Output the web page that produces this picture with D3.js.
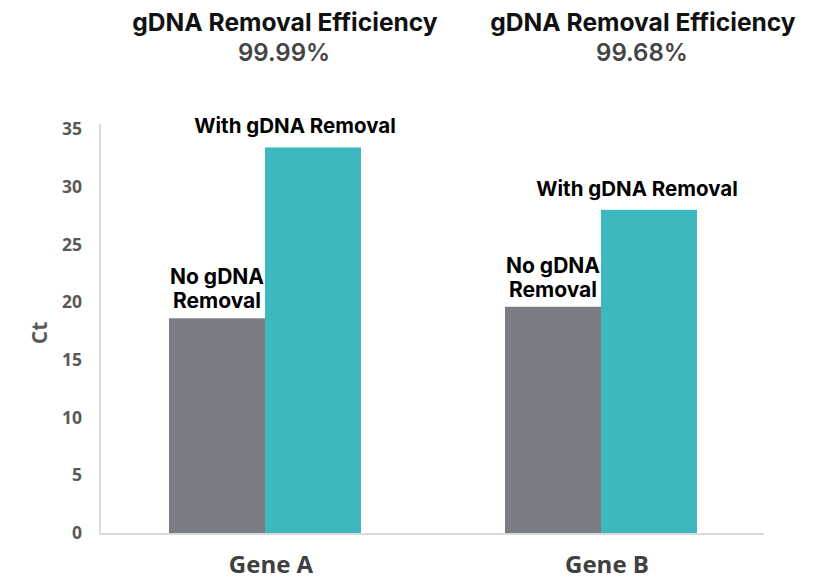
<!DOCTYPE html>
<html>
<head>
<meta charset="utf-8">
<script src="https://cdn.jsdelivr.net/npm/d3@7"></script>
<style>
  body { margin: 0; background: #fff; }
  svg { display: block; }
</style>
</head>
<body>
<svg width="834" height="587"></svg>
<script>
// chart data
const genes = ['Gene A', 'Gene B'];
const series = ['No gDNA Removal', 'With gDNA Removal'];
const noRemoval = [18.6, 19.6];
const withRemoval = [33.4, 28.0];
const efficiency = ['99.99%', '99.68%'];
const yTicks = [0, 5, 10, 15, 20, 25, 30, 35];

const data = genes.map((g, i) => ({ gene: g, values: [noRemoval[i], withRemoval[i]], eff: efficiency[i] }));

const colors = d3.scaleOrdinal().domain(series).range(['#7a7d84', '#3db8bf']);

const xScale = d3.scaleBand()
  .domain(genes)
  .range([97, 769])
  .paddingInner(0.4286)
  .paddingOuter(0.2143);

const xInner = d3.scaleBand()
  .domain(series)
  .range([0, xScale.bandwidth()]);

const yScale = d3.scaleLinear()
  .domain([0, 35])
  .range([533, 129]);

const svg = d3.select('svg');

// bars
const groups = svg.selectAll('.gene')
  .data(data)
  .enter()
  .append('g')
  .attr('transform', d => `translate(${xScale(d.gene)},0)`);

groups.selectAll('rect')
  .data(d => d.values.map((v, j) => ({ key: series[j], value: v })))
  .enter()
  .append('rect')
  .attr('x', d => xInner(d.key))
  .attr('width', xInner.bandwidth())
  .attr('y', d => yScale(d.value))
  .attr('height', d => yScale(0) - yScale(d.value))
  .attr('fill', d => colors(d.key));

// axes lines
svg.append('line')
  .attr('x1', 100).attr('x2', 100)
  .attr('y1', yScale(35) - 5).attr('y2', yScale(0) + 1)
  .attr('stroke', '#d9d9d9').attr('stroke-width', 2);
svg.append('line')
  .attr('x1', 99).attr('x2', 764)
  .attr('y1', yScale(0) + 1).attr('y2', yScale(0) + 1)
  .attr('stroke', '#d9d9d9').attr('stroke-width', 2);

// y tick labels
svg.selectAll('.ytick')
  .data(yTicks)
  .enter()
  .append('text')
  .attr('x', 82)
  .attr('y', d => yScale(d))
  .attr('dy', '0.35em')
  .attr('text-anchor', 'end')
  .attr('font-family', 'Open Sans')
  .attr('font-weight', 700)
  .attr('font-size', 17.5)
  .attr('fill', '#595959')
  .text(d => d);

svg.append('text')
  .attr('transform', `translate(47,${yScale(17.5) + 2}) rotate(-90)`)
  .attr('text-anchor', 'middle')
  .attr('font-family', 'Open Sans')
  .attr('font-weight', 700)
  .attr('font-size', 21)
  .attr('fill', '#595959')
  .text('Ct');

// x labels
svg.selectAll('.xlabel')
  .data(genes)
  .enter()
  .append('text')
  .attr('x', d => xScale(d) + xScale.bandwidth() / 2 + 6)
  .attr('y', 573)
  .attr('text-anchor', 'middle')
  .attr('font-family', 'Open Sans')
  .attr('font-weight', 700)
  .attr('font-size', 24)
  .attr('fill', '#404040')
  .text(d => d);

// efficiency titles
const titleX = [285, 643];
data.forEach((d, i) => {
  svg.append('text')
    .attr('x', titleX[i]).attr('y', 31)
    .attr('text-anchor', 'middle')
    .attr('font-family', 'Inter')
    .attr('font-weight', 700)
    .attr('font-size', 24.6)
    .attr('fill', '#111')
    .text('gDNA Removal Efficiency');
  svg.append('text')
    .attr('x', titleX[i] - 1).attr('y', 61)
    .attr('text-anchor', 'middle')
    .attr('font-family', 'Inter')
    .attr('font-weight', 600)
    .attr('font-size', 24)
    .attr('fill', '#444')
    .text(d.eff);
});

// bar labels
groups.each(function (d) {
  const g = d3.select(this);
  const xw = xInner('With gDNA Removal') + xInner.bandwidth() / 2;
  g.append('text')
    .attr('x', xw - 18 + (d.gene === 'Gene B' ? 6 : 0))
    .attr('y', yScale(d.values[1]) - 14)
    .attr('text-anchor', 'middle')
    .attr('font-family', 'Inter')
    .attr('font-weight', 700)
    .attr('font-size', 20.5)
    .attr('fill', '#000')
    .text('With gDNA Removal');
  const xn = xInner('No gDNA Removal') + xInner.bandwidth() / 2;
  const t = g.append('text')
    .attr('text-anchor', 'middle')
    .attr('font-family', 'Inter')
    .attr('font-weight', 700)
    .attr('font-size', 21)
    .attr('fill', '#000');
  t.append('tspan').attr('x', xn).attr('y', yScale(d.values[0]) - 34).text('No gDNA');
  t.append('tspan').attr('x', xn).attr('y', yScale(d.values[0]) - 10).text('Removal');
});
</script>
</body>
</html>
